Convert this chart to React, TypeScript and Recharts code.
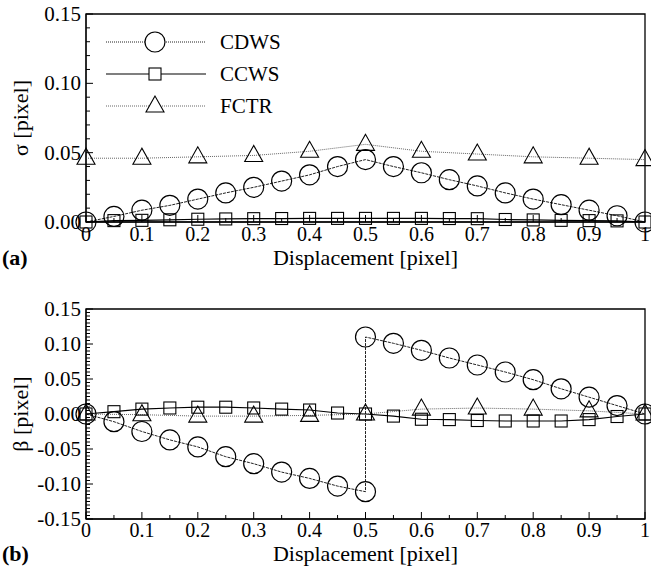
import React from 'react'
import { LineChart, Line, XAxis, YAxis, ReferenceArea, Legend } from 'recharts'

const FONT = '"Liberation Serif", "DejaVu Serif", serif'

// x positions
const xFine = [0, 0.05, 0.1, 0.15, 0.2, 0.25, 0.3, 0.35, 0.4, 0.45, 0.5, 0.55, 0.6, 0.65, 0.7, 0.75, 0.8, 0.85, 0.9, 0.95, 1]
const xCoarse = [0, 0.1, 0.2, 0.3, 0.4, 0.5, 0.6, 0.7, 0.8, 0.9, 1]
const xJump = [0, 0.05, 0.1, 0.15, 0.2, 0.25, 0.3, 0.35, 0.4, 0.45, 0.5, 0.5, 0.55, 0.6, 0.65, 0.7, 0.75, 0.8, 0.85, 0.9, 0.95, 1]

// (a) sigma
const sigmaCDWS = [0, 0.004, 0.0085, 0.012, 0.0165, 0.021, 0.025, 0.0295, 0.034, 0.04, 0.045, 0.04, 0.0355, 0.0305, 0.026, 0.021, 0.0165, 0.0125, 0.0085, 0.0045, 0]
const sigmaCCWS = [0, 0.001, 0.0012, 0.0016, 0.002, 0.0022, 0.0024, 0.0025, 0.0026, 0.0026, 0.0026, 0.0026, 0.0026, 0.0025, 0.0024, 0.0018, 0.0015, 0.0012, 0.001, 0.0008, 0]
const sigmaFCTR = [0.046, 0.046, 0.047, 0.048, 0.051, 0.056, 0.051, 0.049, 0.047, 0.046, 0.045]

// (b) beta
const betaCDWS = [0, -0.011, -0.025, -0.037, -0.047, -0.061, -0.071, -0.083, -0.092, -0.103, -0.111, 0.11, 0.101, 0.091, 0.08, 0.07, 0.06, 0.049, 0.036, 0.024, 0.012, 0]
const betaCCWS = [0, 0.0033, 0.007, 0.0086, 0.0097, 0.0097, 0.0086, 0.007, 0.0057, 0.0014, 0, -0.003, -0.0075, -0.008, -0.0093, -0.01, -0.01, -0.01, -0.008, -0.0036, 0]
const betaFCTR = [0, -0.001, -0.003, -0.003, -0.002, 0, 0.007, 0.0085, 0.007, 0.0045, 0]

// ticks
const dispMajor = [0, 0.1, 0.2, 0.3, 0.4, 0.5, 0.6, 0.7, 0.8, 0.9, 1]
const sigmaMajor = [0, 0.05, 0.1, 0.15]
const betaMajor = [-0.15, -0.1, -0.05, 0, 0.05, 0.1, 0.15]

const steps = (from: number, to: number, step: number) => {
  const out: number[] = []
  const n = Math.round((to - from) / step)
  for (let i = 0; i <= n; i++) out.push(Math.round((from + i * step) * 10000) / 10000)
  return out
}
const dispTicks = steps(0, 1, 0.05)
const sigmaTicks = steps(0, 0.15, 0.01)
const betaTicks = steps(-0.15, 0.15, 0.005)

const series = [
  { name: 'CDWS', shape: 'circle', color: '#222', dash: '3 1', width: 1 },
  { name: 'CCWS', shape: 'square', color: '#000', dash: undefined, width: 1.2 },
  { name: 'FCTR', shape: 'triangle', color: '#666', dash: '1 1', width: 1 },
]

const zip = (xs: number[], ys: number[]) => xs.map((x, i) => ({ x, y: ys[i] }))

const isMajor = (v: number, majors: number[]) => majors.some((m) => Math.abs(m - v) < 1e-6)

function marker(shape: string, cx: number, cy: number, key: string, fill = 'none') {
  if (cx == null || cy == null) return <g key={key} />
  if (shape === 'circle')
    return <circle key={key} cx={cx} cy={cy} r={10} fill={fill} stroke="#000" strokeWidth={1.2} />
  if (shape === 'square')
    return <rect key={key} x={cx - 6} y={cy - 6} width={12} height={12} fill={fill} stroke="#000" strokeWidth={1.1} />
  return (
    <polygon
      key={key}
      points={`${cx},${cy - 10} ${cx - 9},${cy + 6} ${cx + 9},${cy + 6}`}
      fill={fill}
      stroke="#000"
      strokeWidth={1.1}
    />
  )
}

const PLOT_LEFT = 86
const PLOT_RIGHT = 645
const Y_MARGIN = 5

function YTick(props: any) {
  const { x, y, payload, majors } = props
  const v = payload.value
  const major = isMajor(v, majors)
  const ax = x + Y_MARGIN
  return (
    <g>
      <line x1={ax} y1={y} x2={ax + (major ? 7 : 4)} y2={y} stroke="#000" />
      {major && (
        <text x={x} y={y} textAnchor="end" dominantBaseline="central" fontSize={21} fontFamily={FONT} fill="#000">
          {v.toFixed(2)}
        </text>
      )}
    </g>
  )
}

function XTick(props: any) {
  const { x, y, payload, margin } = props
  const v = payload.value
  const major = isMajor(v, dispMajor)
  const ay = y - margin
  const label = v === 0 || v === 1 ? String(v) : v.toFixed(1)
  return (
    <g>
      <line x1={x} y1={ay} x2={x} y2={ay - (major ? 7 : 4)} stroke="#000" />
      {major && (
        <text x={x} y={y} dy="0.71em" textAnchor="middle" fontSize={20} fontFamily={FONT} fill="#000">
          {label}
        </text>
      )}
    </g>
  )
}

const renderLegend = () => (
  <svg width={200} height={100}>
    {series.map((s, i) => {
      const y = 16 + i * 32
      return (
        <g key={s.name}>
          <line x1={6} x2={106} y1={y} y2={y} stroke={s.color} strokeWidth={s.width} strokeDasharray={s.dash === '3 1' ? '1 1' : s.dash} />
          {marker(s.shape, 55, y, 'm' + i, '#fff')}
          <text x={120} y={y} dominantBaseline="central" fontSize={21} fontFamily={FONT} fill="#000">
            {s.name}
          </text>
        </g>
      )
    })}
  </svg>
)

interface PanelProps {
  height: number
  plotTop: number
  plotBottom: number
  xMargin: number
  titleGap: number
  yDomain: [number, number]
  yTicks: number[]
  yMajor: number[]
  yTitle: string
  tag: string
  data: { x: number; y: number }[][]
  showLegend?: boolean
}

function Panel({ height, plotTop, plotBottom, xMargin, titleGap, yDomain, yTicks, yMajor, yTitle, tag, data, showLegend }: PanelProps) {
  const midY = (plotTop + plotBottom) / 2
  const midX = (PLOT_LEFT + PLOT_RIGHT) / 2
  return (
    <LineChart
      width={651}
      height={height}
      margin={{ top: plotTop, right: 651 - PLOT_RIGHT, left: 0, bottom: 0 }}
    >
      <XAxis
        type="number"
        dataKey="x"
        domain={[0, 1]}
        ticks={dispTicks}
        interval={0}
        tickSize={0}
        tickMargin={xMargin}
        height={height - plotBottom}
        axisLine={{ stroke: '#000' }}
        tick={(p: any) => <XTick {...p} margin={xMargin} />}
        label={() => (
          <g>
            <text x={midX} y={plotBottom + titleGap} textAnchor="middle" fontSize={22} fontFamily={FONT} fill="#000">
              Displacement [pixel]
            </text>
            <text x={2} y={plotBottom + titleGap} fontSize={22} fontWeight="bold" fontFamily={FONT} fill="#000">
              {tag}
            </text>
          </g>
        )}
      />
      <YAxis
        type="number"
        domain={yDomain}
        ticks={yTicks}
        interval={0}
        tickSize={0}
        tickMargin={Y_MARGIN}
        width={PLOT_LEFT}
        axisLine={{ stroke: '#000' }}
        tick={(p: any) => <YTick {...p} majors={yMajor} />}
        label={() => (
          <text
            x={20}
            y={midY}
            transform={`rotate(-90, 20, ${midY})`}
            textAnchor="middle"
            dominantBaseline="central"
            fontSize={22}
            fontFamily={FONT}
            fill="#000"
          >
            {yTitle}
          </text>
        )}
      />
      <ReferenceArea x1={0} x2={1} y1={yDomain[0]} y2={yDomain[1]} fill="none" stroke="#000" strokeWidth={1.3} />
      {showLegend && (
        <Legend
          layout="horizontal"
          verticalAlign="middle"
          align="center"
          content={renderLegend}
          wrapperStyle={{ left: 100, top: 26, width: 200, height: 100 }}
        />
      )}
      {series.map((s, i) => (
        <Line
          key={s.name}
          name={s.name}
          data={data[i]}
          dataKey="y"
          type="linear"
          stroke={s.color}
          strokeWidth={s.width}
          strokeDasharray={s.dash}
          isAnimationActive={false}
          dot={(p: any) => marker(s.shape, p.cx, p.cy, `${s.name}-${p.index}`)}
          activeDot={false}
        />
      ))}
    </LineChart>
  )
}

export default function App() {
  return (
    <div style={{ position: 'absolute', left: 0, top: 0, width: 651, height: 566, background: '#fff' }}>
      <Panel
        height={290}
        plotTop={14}
        plotBottom={222}
        xMargin={5}
        titleGap={43}
        yDomain={[0, 0.15]}
        yTicks={sigmaTicks}
        yMajor={sigmaMajor}
        yTitle="σ [pixel]"
        tag="(a)"
        data={[zip(xFine, sigmaCDWS), zip(xFine, sigmaCCWS), zip(xCoarse, sigmaFCTR)]}
        showLegend
      />
      <Panel
        height={276}
        plotTop={19}
        plotBottom={229}
        xMargin={4}
        titleGap={42}
        yDomain={[-0.15, 0.15]}
        yTicks={betaTicks}
        yMajor={betaMajor}
        yTitle="β [pixel]"
        tag="(b)"
        data={[zip(xJump, betaCDWS), zip(xFine, betaCCWS), zip(xCoarse, betaFCTR)]}
      />
    </div>
  )
}
